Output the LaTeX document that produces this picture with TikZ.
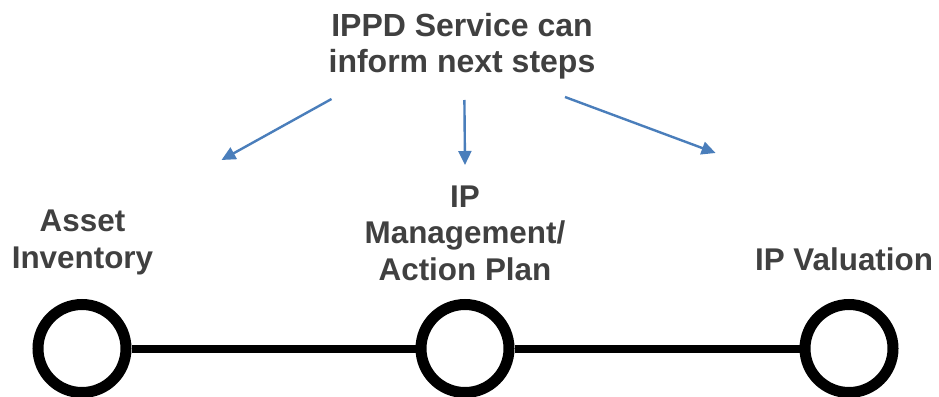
\documentclass[tikz,border=0pt]{standalone}
\usepackage{fontspec}
\setmainfont{Liberation Sans}
\usetikzlibrary{arrows.meta}
\definecolor{labelgray}{HTML}{404040}
\definecolor{arrowblue}{HTML}{4A7EBB}
\tikzset{
  % anchor=base sits on the baseline of the last line
  lbl/.style={text=labelgray, align=center, inner sep=0pt, anchor=base,
    font=\bfseries\fontsize{31.4}{36.5}\selectfont},
  titlelbl/.style={lbl, font=\bfseries\fontsize{32}{36}\selectfont},
  milestone/.style={circle, draw=black, line width=11pt, minimum size=88pt,
    inner sep=0pt, fill=white},
  timeline/.style={black, line width=8pt},
  hint/.style={arrowblue, line width=2.4pt,
    -{Triangle[length=14pt,width=13pt]}}
}
\begin{document}
\begin{tikzpicture}[x=1pt, y=-1pt]
  \useasboundingbox (0,0) rectangle (939,396);

  % heading
  \node[titlelbl] (head) at (462,73) {IPPD Service can\\inform next steps};

  % stage labels
  \node[lbl] (asset) at (82.5,268) {Asset\\Inventory};
  \node[lbl] (mgmt) at (465,280) {IP\\Management/\\Action Plan};
  \node[lbl] (valu) at (844,270) {IP Valuation};

  % timeline with three milestones
  \node[milestone] (m1) at (82,348.5) {};
  \node[milestone] (m2) at (465,348.5) {};
  \node[milestone] (m3) at (849,348.5) {};
  \draw[timeline] (m1) -- (m2);
  \draw[timeline] (m2) -- (m3);

  % arrows from the heading towards the stages
  \coordinate (s1) at (331.5,99);
  \coordinate (t1) at (221.5,160);
  \coordinate (s2) at (464.4,100);
  \coordinate (t2) at (465,165);
  \coordinate (s3) at (565,97);
  \coordinate (t3) at (715.6,153);
  \draw[hint] (s1) -- (t1);
  \draw[hint] (s2) -- (t2);
  \draw[hint] (s3) -- (t3);
\end{tikzpicture}
\end{document}
